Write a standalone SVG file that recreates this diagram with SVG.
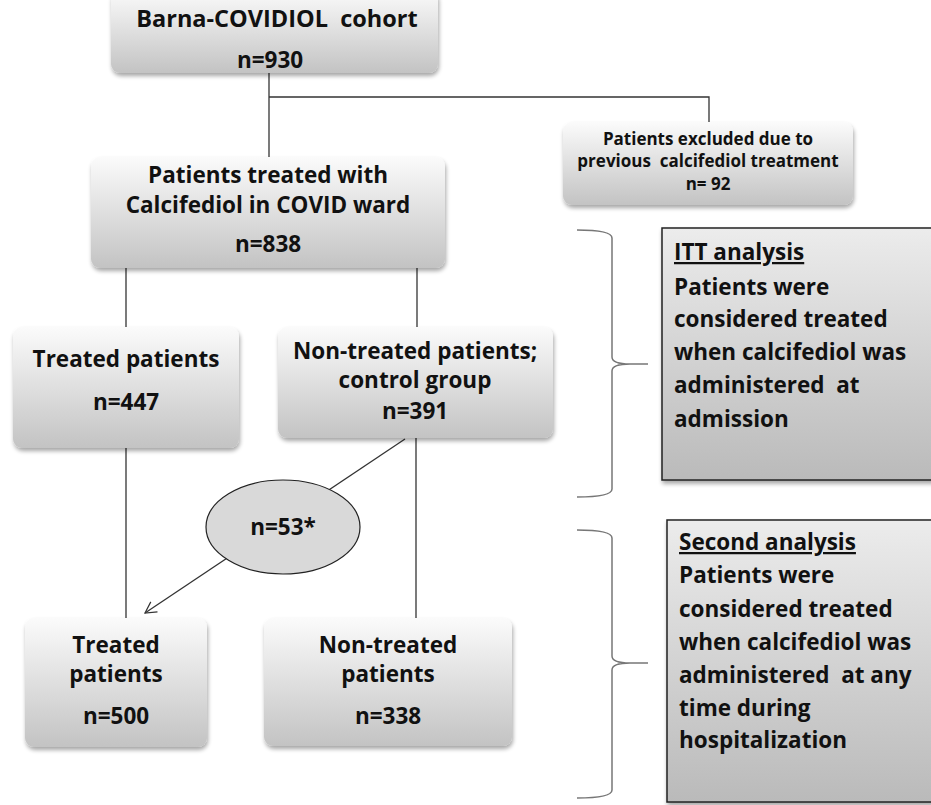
<svg xmlns="http://www.w3.org/2000/svg" width="931" height="805" viewBox="0 0 931 805">
<defs>
<linearGradient id="g" x1="0" y1="0" x2="0" y2="1">
<stop offset="0" stop-color="#fbfbfb"/>
<stop offset="1" stop-color="#c3c3c3"/>
</linearGradient>
<linearGradient id="g2" x1="0" y1="0" x2="0" y2="1">
<stop offset="0" stop-color="#ececec"/>
<stop offset="1" stop-color="#bababa"/>
</linearGradient>
<filter id="sh" x="-10%" y="-10%" width="125%" height="130%">
<feGaussianBlur in="SourceAlpha" stdDeviation="2"/>
<feOffset dx="1" dy="3" result="o"/>
<feComponentTransfer><feFuncA type="linear" slope="0.35"/></feComponentTransfer>
<feMerge><feMergeNode/><feMergeNode in="SourceGraphic"/></feMerge>
</filter>
<marker id="arr" markerWidth="14" markerHeight="14" refX="12" refY="7" orient="auto" markerUnits="userSpaceOnUse">
<path d="M1,1 L12,7 L1,13" fill="none" stroke="#333" stroke-width="1.2"/>
</marker>
</defs>
<style>
.box{fill:url(#g);filter:url(#sh)}
.sbox{fill:url(#g2);stroke:#222;stroke-width:1.5;filter:url(#sh)}
text{font-family:"Open Sans","Liberation Sans",Arial,sans-serif;font-weight:bold;fill:#111}
.c{text-anchor:middle;font-size:22.5px}
.s{text-anchor:middle;font-size:17px}
.l{font-size:22.5px}
.ln{fill:none;stroke:#333;stroke-width:1.3}
.br{fill:none;stroke:#777;stroke-width:1.5}
</style>
<rect width="931" height="805" fill="#fff"/>
<g id="connectors">
<path class="ln" d="M269,73 V157"/>
<path class="ln" d="M269,97 H709 V122"/>
<path class="ln" d="M126,268 V327"/>
<path class="ln" d="M417,268 V327"/>
<path class="ln" d="M126,448 V618"/>
<path class="ln" d="M416,438 V618"/>
<path class="ln" d="M405,439 L145,613" marker-end="url(#arr)"/>
</g>
<g id="n1"><rect class="box" x="111" y="-10" width="327" height="83" rx="9"/>
<text class="c" x="277" y="27" style="font-size:23.5px" xml:space="preserve">Barna-COVIDIOL  cohort</text>
<text class="c" x="270" y="68">n=930</text></g>
<g id="n2"><rect class="box" x="563" y="122" width="290" height="83" rx="9"/>
<text class="s" x="708" y="145">Patients excluded due to</text>
<text class="s" x="708" y="167" xml:space="preserve">previous  calcifediol treatment</text>
<text class="s" x="708" y="190">n= 92</text></g>
<g id="n3"><rect class="box" x="91" y="157" width="354" height="111" rx="9"/>
<text class="c" x="268" y="183">Patients treated with</text>
<text class="c" x="268" y="213">Calcifediol in COVID ward</text>
<text class="c" x="268" y="252">n=838</text></g>
<g id="n4"><rect class="box" x="13" y="327" width="226" height="121" rx="9"/>
<text class="c" x="126" y="367">Treated patients</text>
<text class="c" x="126" y="410">n=447</text></g>
<g id="n5"><rect class="box" x="278" y="327" width="275" height="111" rx="9"/>
<text class="c" x="415" y="359">Non-treated patients;</text>
<text class="c" x="415" y="388">control group</text>
<text class="c" x="415" y="419">n=391</text></g>
<g id="n6"><ellipse cx="283" cy="527" rx="77" ry="47" fill="#d9d9d9" stroke="#222" stroke-width="1.2"/>
<text class="c" x="283" y="535">n=53*</text></g>
<g id="n7"><rect class="box" x="25" y="618" width="182" height="129" rx="9"/>
<text class="c" x="116" y="653">Treated</text>
<text class="c" x="116" y="682">patients</text>
<text class="c" x="116" y="724">n=500</text></g>
<g id="n8"><rect class="box" x="264" y="618" width="248" height="128" rx="9"/>
<text class="c" x="388" y="653">Non-treated</text>
<text class="c" x="388" y="682">patients</text>
<text class="c" x="388" y="724">n=338</text></g>
<g id="brace1"><path class="br" d="M577,230 Q612,230 612,238 V357 Q612,364 630,364 H648 M630,364 Q612,364 612,371 V489 Q612,497 577,497"/></g>
<g id="brace2"><path class="br" d="M577,530 Q612,530 612,538 V656 Q612,663 630,663 H648 M630,663 Q612,663 612,670 V790 Q612,798 577,798"/></g>
<g id="itt"><rect class="sbox" x="662" y="228" width="290" height="252"/>
<text class="l" x="674" y="260" text-decoration="underline">ITT analysis</text>
<text class="l" x="674" y="295">Patients were</text>
<text class="l" x="674" y="327">considered treated</text>
<text class="l" x="674" y="360">when calcifediol was</text>
<text class="l" x="674" y="393" xml:space="preserve">administered  at</text>
<text class="l" x="674" y="427">admission</text></g>
<g id="second"><rect class="sbox" x="667" y="520" width="290" height="282"/>
<text class="l" x="679" y="550" text-decoration="underline">Second analysis</text>
<text class="l" x="679" y="583">Patients were</text>
<text class="l" x="679" y="617">considered treated</text>
<text class="l" x="679" y="650">when calcifediol was</text>
<text class="l" x="679" y="683" xml:space="preserve">administered  at any</text>
<text class="l" x="679" y="716">time during</text>
<text class="l" x="679" y="748">hospitalization</text></g>
</svg>
